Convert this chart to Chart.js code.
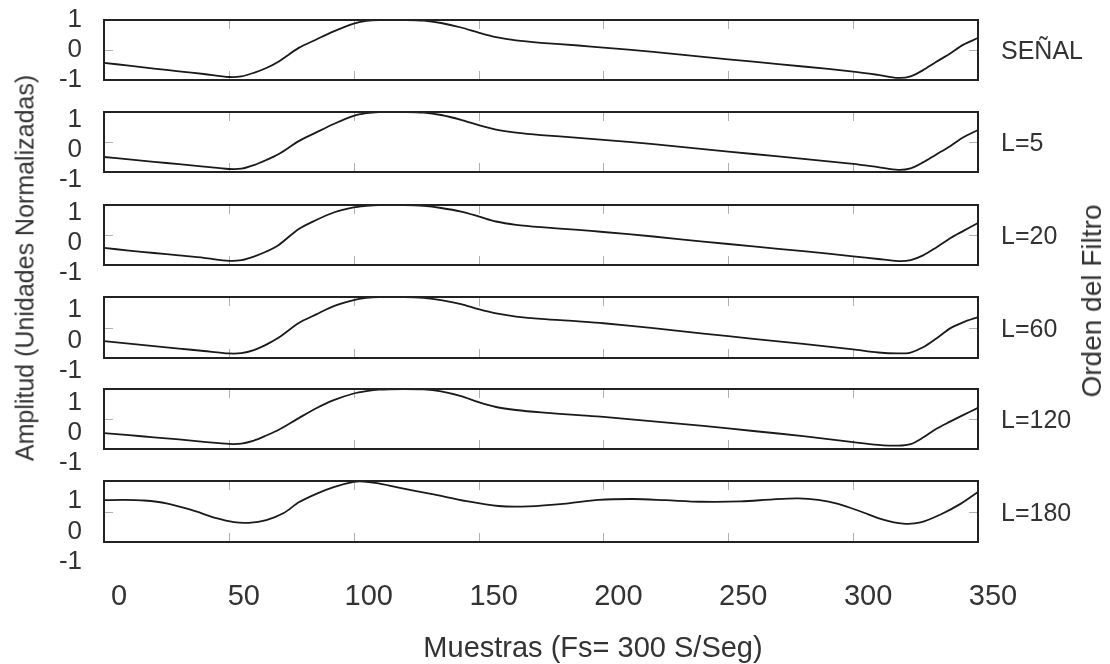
<!DOCTYPE html>
<html>
<head>
<meta charset="utf-8">
<script src="https://cdn.jsdelivr.net/npm/chart.js@4.4.1/dist/chart.umd.min.js"></script>
<style>
  body { margin: 0; background: #fff; width: 1110px; height: 664px; overflow: hidden; position: relative;
         font-family: 'Liberation Sans', Arial, sans-serif; color: #333; }
  canvas { position: absolute; left: 0; }
  .lbl { position: absolute; white-space: nowrap; line-height: 1; }
</style>
</head>
<body>
<script>
// --- data (samples vs normalised amplitude) ---
const panelNames = ['SEÑAL', 'L=5', 'L=20', 'L=60', 'L=120', 'L=180'];
const yTickValues = [-1, 0, 1];
const xTickStep = 50;

// shared sample positions for the first five traces
const muestrasX = [0, 10, 20, 30, 40, 50, 55, 60, 65, 70, 78, 85, 92, 100, 105, 110, 120, 128, 135, 143,
  150, 157, 165, 175, 190, 200, 220, 240, 260, 280, 300, 310, 318, 323, 328, 333, 339, 344, 350];

const senalY = [-0.43, -0.52, -0.62, -0.71, -0.8, -0.9, -0.88, -0.76, -0.6, -0.38, 0.07, 0.35, 0.62, 0.88, 0.97, 1.0, 1.0, 0.98, 0.9, 0.75,
  0.58, 0.43, 0.32, 0.24, 0.15, 0.08, -0.06, -0.23, -0.39, -0.55, -0.72, -0.83, -0.93, -0.88, -0.67, -0.41, -0.11, 0.17, 0.4];
const l5Y = [-0.5, -0.58, -0.66, -0.74, -0.82, -0.9, -0.89, -0.77, -0.6, -0.4, 0.03, 0.32, 0.6, 0.87, 0.96, 1.0, 1.0, 0.98, 0.9, 0.74,
  0.56, 0.41, 0.31, 0.23, 0.14, 0.07, -0.07, -0.24, -0.4, -0.56, -0.73, -0.84, -0.93, -0.88, -0.68, -0.43, -0.13, 0.15, 0.4];
const l20Y = [-0.43, -0.52, -0.6, -0.68, -0.76, -0.86, -0.84, -0.72, -0.55, -0.33, 0.2, 0.5, 0.75, 0.92, 0.97, 1.0, 1.0, 0.97, 0.9, 0.78,
  0.62, 0.45, 0.34, 0.26, 0.17, 0.1, -0.05, -0.22, -0.38, -0.54, -0.71, -0.8, -0.87, -0.84, -0.68, -0.43, -0.1, 0.13, 0.4];
const l60Y = [-0.45, -0.53, -0.61, -0.69, -0.77, -0.85, -0.84, -0.74, -0.56, -0.33, 0.15, 0.43, 0.7, 0.9, 0.97, 1.0, 1.0, 0.97, 0.9, 0.77,
  0.6, 0.46, 0.36, 0.28, 0.2, 0.14, -0.02, -0.2, -0.37, -0.54, -0.72, -0.82, -0.85, -0.82, -0.65, -0.38, -0.02, 0.17, 0.34];
const l120Y = [-0.47, -0.54, -0.61, -0.68, -0.76, -0.83, -0.82, -0.72, -0.55, -0.36, 0.03, 0.36, 0.63, 0.85, 0.93, 0.98, 1.0, 0.99, 0.92, 0.76,
  0.56, 0.4, 0.3, 0.22, 0.13, 0.07, -0.08, -0.23, -0.4, -0.57, -0.77, -0.86, -0.89, -0.84, -0.62, -0.34, -0.08, 0.13, 0.37];

// L=180 trace has its own sample positions
const l180X = [0, 8, 16, 25, 35, 45, 52, 58, 65, 72, 78, 85, 92, 100, 104, 110, 118, 132, 145, 158,
  170, 185, 198, 212, 225, 239, 255, 268, 278, 286, 294, 303, 312, 320, 327, 335, 343, 350];
const l180Y = [0.37, 0.38, 0.36, 0.27, 0.05, -0.22, -0.35, -0.37, -0.28, -0.05, 0.3, 0.58, 0.8, 0.97, 0.98, 0.92, 0.78, 0.56, 0.34, 0.18,
  0.17, 0.26, 0.38, 0.41, 0.37, 0.32, 0.33, 0.4, 0.43, 0.38, 0.25, 0.0, -0.27, -0.4, -0.36, -0.1, 0.25, 0.64];

const traces = [
  [muestrasX, senalY], [muestrasX, l5Y], [muestrasX, l20Y],
  [muestrasX, l60Y], [muestrasX, l120Y], [l180X, l180Y]
];

// --- layout (pixels) ---
const panelTops = [20, 112, 205, 297, 389, 481];
const panelHeights = [60, 60, 60, 61, 60, 61];
const yLabelShift = [0, 8, 8, 13, 14, 20];   // the y labels drift below their ticks in the original
const plotLeft = 104, plotRight = 978, padTop = 30;
const FONT = "'Liberation Sans', Arial, sans-serif";

// box round each panel + small grey inner ticks
const framePlugin = {
  id: 'frame',
  beforeDatasetsDraw(chart) {
    const { ctx, chartArea: a, scales: { x, y } } = chart;
    ctx.save();
    ctx.strokeStyle = '#b0b0b0';
    ctx.lineWidth = 1;
    ctx.beginPath();
    x.ticks.forEach(t => {
      if (t.value <= x.min || t.value >= x.max) return;
      const px = Math.round(x.getPixelForValue(t.value)) + 0.5;
      ctx.moveTo(px, a.top); ctx.lineTo(px, a.top + 9);
      ctx.moveTo(px, a.bottom); ctx.lineTo(px, a.bottom - 9);
    });
    y.ticks.forEach(t => {
      if (t.value <= y.min || t.value >= y.max) return;
      const py = Math.round(y.getPixelForValue(t.value)) + 0.5;
      ctx.moveTo(a.left, py); ctx.lineTo(a.left + 9, py);
      ctx.moveTo(a.right, py); ctx.lineTo(a.right - 9, py);
    });
    ctx.stroke();
    ctx.restore();
  },
  afterDatasetsDraw(chart) {
    const { ctx, chartArea: a } = chart;
    ctx.save();
    ctx.strokeStyle = '#222';
    ctx.lineWidth = 2;
    ctx.strokeRect(a.left, a.top, a.right - a.left, a.bottom - a.top);
    ctx.restore();
  }
};

panelNames.forEach((name, i) => {
  const isLast = i === panelNames.length - 1;
  const bottomSpace = isLast ? 110 : 30;
  const canvas = document.createElement('canvas');
  canvas.width = 1110;
  canvas.height = padTop + panelHeights[i] + bottomSpace;
  canvas.style.top = (panelTops[i] - padTop) + 'px';
  document.body.appendChild(canvas);

  const [xs, ys] = traces[i];
  const xScale = {
    type: 'linear',
    min: 0,
    max: 350,
    display: isLast,
    grid: { display: false },
    border: { display: false },
    ticks: {
      stepSize: xTickStep,
      autoSkip: false,
      maxRotation: 0,
      padding: 30,
      labelOffset: 15,
      color: '#333',
      font: { family: FONT, size: 29 }
    }
  };
  if (isLast) xScale.afterFit = s => { s.height = bottomSpace; };

  new Chart(canvas, {
    type: 'line',
    data: {
      datasets: [{
        label: name,
        data: xs.map((v, k) => ({ x: v, y: ys[k] })),
        borderColor: '#1a1a1a',
        borderWidth: 1.8,
        pointRadius: 0,
        fill: false,
        tension: 0.3,
        clip: false
      }]
    },
    options: {
      responsive: false,
      animation: false,
      layout: { padding: { top: padTop, bottom: isLast ? 0 : bottomSpace, left: 0, right: 1110 - plotRight } },
      plugins: { legend: { display: false }, tooltip: { enabled: false } },
      scales: {
        x: xScale,
        y: {
          type: 'linear',
          min: -1,
          max: 1,
          grid: { display: false },
          border: { display: false },
          afterBuildTicks: s => { s.ticks = yTickValues.map(v => ({ value: v })); },
          ticks: {
            autoSkip: false,
            padding: 14,
            labelOffset: yLabelShift[i],
            color: '#333',
            font: { family: FONT, size: 26 }
          },
          afterFit: s => { s.width = plotLeft; }
        }
      }
    },
    plugins: [framePlugin]
  });

  const lbl = document.createElement('div');
  lbl.className = 'lbl';
  lbl.textContent = name;
  lbl.style.left = '1001px';
  lbl.style.top = (panelTops[i] + panelHeights[i] / 2) + 'px';
  lbl.style.transform = 'translateY(-50%)';
  lbl.style.fontSize = '25px';
  document.body.appendChild(lbl);
});

// axis titles
function addTitle(text, cx, cy, size, rotate) {
  const d = document.createElement('div');
  d.className = 'lbl';
  d.textContent = text;
  d.style.left = cx + 'px';
  d.style.top = cy + 'px';
  d.style.fontSize = size + 'px';
  d.style.transform = 'translate(-50%, -50%)' + (rotate ? ' rotate(-90deg)' : '');
  document.body.appendChild(d);
}
addTitle('Amplitud (Unidades Normalizadas)', 25, 268, 25, true);
addTitle('Orden del Filtro', 1092, 301, 28, true);
addTitle('Muestras (Fs= 300 S/Seg)', 593, 647, 29, false);
</script>
</body>
</html>
